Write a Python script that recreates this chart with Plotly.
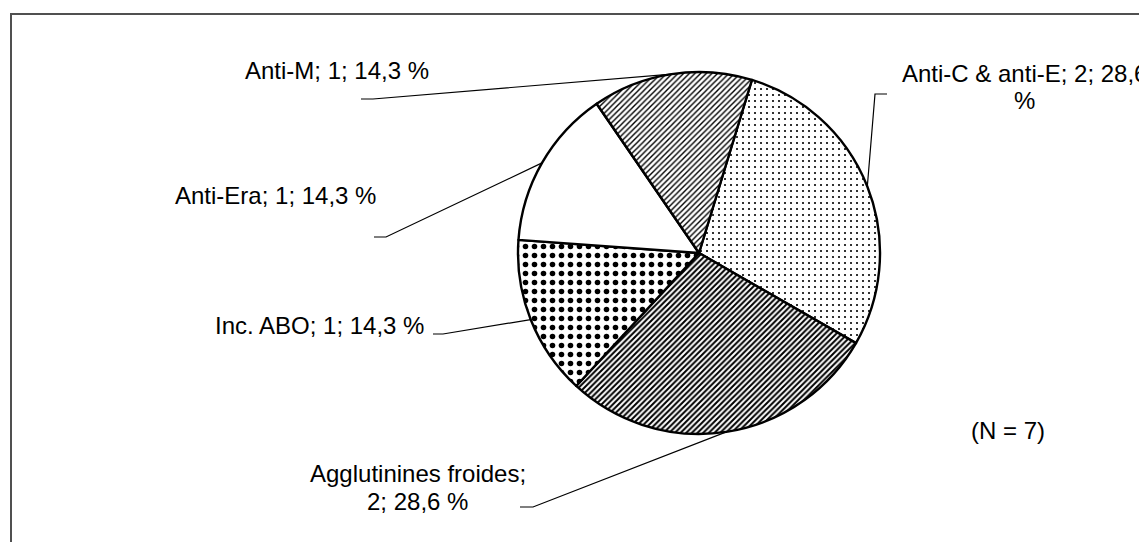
import math
import plotly.graph_objects as go

# ---------------- data ----------------
labels = ["Anti-C & anti-E", "Agglutinines froides", "Inc. ABO", "Anti-Era", "Anti-M"]
counts = [2, 2, 1, 1, 1]
n_note = "(N = 7)"

# ---------------- styles / layout ----------------
W, H = 1147, 542
OFF = 8                             # page body margin of the html page
CX, CY, R = 699, 253, 181          # pie centre / radius in window pixels
ROTATION = 17
FONT = "Liberation Sans, Arial, sans-serif"
FS = 24

patterns = {
    "Anti-C & anti-E": dict(shape=".", size=6, solidity=0.1),
    "Agglutinines froides": dict(shape="/", size=4, solidity=0.5),
    "Inc. ABO": dict(shape=".", size=9, solidity=0.3),
    "Anti-Era": dict(shape="", size=8, solidity=0.1),
    "Anti-M": dict(shape="/", size=4, solidity=0.35),
}

# label placement: line split, x, anchor, baselines, leader elbow (window pixels)
label_pos = {
    "Anti-C & anti-E": dict(split="%", x=1024, xa="center", base=[81, 108], elbow=[(887, 94), (875, 94)]),
    "Agglutinines froides": dict(split="num", x=418, xa="center", base=[481, 509], elbow=[(520, 507), (533, 507)]),
    "Inc. ABO": dict(split=None, x=425, xa="right", base=[333], elbow=[(433, 334), (443, 334)]),
    "Anti-Era": dict(split=None, x=275, xa="center", base=[203], elbow=[(374, 237), (386, 237)]),
    "Anti-M": dict(split=None, x=337, xa="center", base=[78], elbow=[(361, 99), (373, 99)]),
}
note_pos = dict(x=1008, base=438)


def px(x):
    return (x - OFF) / W


def py(y):
    return 1 - (y - OFF) / H


total = sum(counts)
pcts = [f"{100 * c / total:.1f}".replace(".", ",") for c in counts]

fig = go.Figure()
fig.add_trace(go.Pie(
    labels=labels,
    values=counts,
    sort=False,
    direction="clockwise",
    rotation=ROTATION,
    textinfo="none",
    hoverinfo="label+value+percent",
    showlegend=False,
    marker=dict(
        colors=["white"] * len(labels),
        line=dict(color="black", width=2.4),
        pattern=dict(
            shape=[patterns[l]["shape"] for l in labels],
            size=[patterns[l]["size"] for l in labels],
            solidity=[patterns[l]["solidity"] for l in labels],
            fgcolor="black",
            bgcolor="white",
            fillmode="replace",
        ),
    ),
    domain=dict(x=[px(CX - R), px(CX + R)], y=[py(CY + R), py(CY - R)]),
))

annotations = []
shapes = []
start = ROTATION
for lab, c, p in zip(labels, counts, pcts):
    span = 360 * c / total
    mid = math.radians(start + span / 2)
    start += span
    ax, ay = CX + R * math.sin(mid), CY - R * math.cos(mid)
    pos = label_pos[lab]
    if pos["split"] == "%":
        lines = [f"{lab}; {c}; {p}", "%"]
    elif pos["split"] == "num":
        lines = [f"{lab};", f"{c}; {p} %"]
    else:
        lines = [f"{lab}; {c}; {p} %"]
    for t, b in zip(lines, pos["base"]):
        annotations.append(dict(
            x=px(pos["x"]), y=py(b - 8), xref="paper", yref="paper",
            text=t, showarrow=False, xanchor=pos["xa"], yanchor="middle",
            borderpad=0,
            font=dict(family=FONT, size=FS, color="black"),
        ))
    (x0, y0), (x1, y1) = pos["elbow"]
    path = f"M {px(x0)},{py(y0)} L {px(x1)},{py(y1)} L {px(ax)},{py(ay)}"
    shapes.append(dict(type="path", xref="paper", yref="paper", path=path,
                       line=dict(color="black", width=1.2)))

annotations.append(dict(
    x=px(note_pos["x"]), y=py(note_pos["base"] - 8), xref="paper", yref="paper",
    text=n_note, showarrow=False, xanchor="center", yanchor="middle",
    font=dict(family=FONT, size=FS, color="black"),
))

# outer frame (extends beyond right / bottom edge)
shapes.append(dict(type="rect", xref="paper", yref="paper",
                   x0=px(11), x1=px(W + 40), y0=py(H + 40), y1=py(14),
                   line=dict(color="#505050", width=2), fillcolor="rgba(0,0,0,0)",
                   layer="below"))

fig.update_layout(
    width=W, height=H,
    margin=dict(l=0, r=0, t=0, b=0),
    paper_bgcolor="white",
    plot_bgcolor="white",
    annotations=annotations,
    shapes=shapes,
)

fig.write_html("out.html")
